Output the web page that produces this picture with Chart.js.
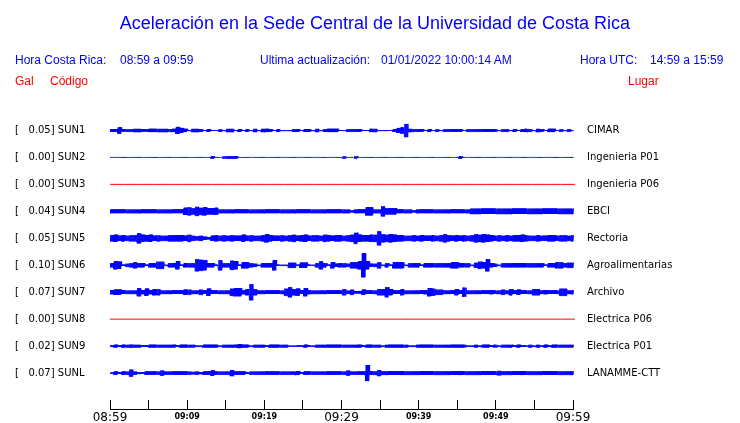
<!DOCTYPE html>
<html>
<head>
<meta charset="utf-8">
<script src="https://cdn.jsdelivr.net/npm/chart.js@4.4.1/dist/chart.umd.min.js"></script>
<style>
  html, body { margin: 0; padding: 0; background: #fff; }
  #wrap { position: relative; width: 740px; height: 423px; overflow: hidden; font-family: "Liberation Sans", Arial, sans-serif; }
  #chart { position: absolute; left: 0; top: 0; }
  #title { position: absolute; left: 0; width: 750px; top: 13px; text-align: center; font-size: 18px; line-height: 20px; color: #0000ff; }
  .txt { position: absolute; white-space: pre; font-size: 12px; line-height: 14px; color: #0000ff; }
  .red { color: #ff0000; }
</style>
</head>
<body>
<div id="wrap">
  <canvas id="chart" width="740" height="423"></canvas>
  <div id="title">Aceleración en la Sede Central de la Universidad de Costa Rica</div>
  <div class="txt" style="left:15px;top:53px">Hora Costa Rica:</div>
  <div class="txt" style="left:120px;top:53px">08:59 a 09:59</div>
  <div class="txt" style="left:260px;top:53px">Ultima actualización:</div>
  <div class="txt" style="left:381px;top:53px">01/01/2022 10:00:14 AM</div>
  <div class="txt" style="left:580px;top:53px">Hora UTC:</div>
  <div class="txt" style="left:650px;top:53px">14:59 a 15:59</div>
  <div class="txt red" style="left:15px;top:74px">Gal</div>
  <div class="txt red" style="left:50px;top:74px">Código</div>
  <div class="txt red" style="left:628px;top:74px">Lugar</div>
</div>
<script>
// stations, top to bottom
const codes = ["SUN1", "SUN2", "SUN3", "SUN4", "SUN5", "SUN6", "SUN7", "SUN8", "SUN9", "SUNL"];
const galMax = ["0.05", "0.00", "0.00", "0.04", "0.05", "0.10", "0.07", "0.00", "0.02", "0.07"];
const places = ["CIMAR", "Ingenieria P01", "Ingenieria P06", "EBCI", "Rectoria", "Agroalimentarias",
  "Archivo", "Electrica P06", "Electrica P01", "LANAMME-CTT"];
const lineColors = ["#0000ff", "#0000ff", "#ff0000", "#0000ff", "#0000ff", "#0000ff", "#0000ff", "#ff0000", "#0000ff", "#0000ff"];

// x axis: minutes after 08:59
const minuteTicks = [0, 5, 10, 15, 20, 25, 30, 35, 40, 45, 50, 55, 60];
const timeLabels = ["08:59", "09:09", "09:19", "09:29", "09:39", "09:49", "09:59"];
const bigLabels = ["08:59", "09:29", "09:59"];

// envelope of each trace, one value per 30 s (counts)
const sun1 = [
  1.2,1.2,3,1,1.2,1.2,1.6,1.6,1.2,1, 1.6,1.6,1.6,1.6,1.6,1.2,1.6,3.5,2.5,1.6,
  0.4,1.6,1.6,1.2,0.4,1.2,0.4,0.4,1.2,0.4, 1.6,1.6,0.4,1.2,0.4,1.2,0.4,1.6,0.4,1.6,
  1.6,1.2,0.4,1.2,0.4,0.4,0.4,1.2,1.2,0.4, 1.2,1.2,0.4,1.6,0.4,1.2,1.6,1.6,1.6,0.4,
  0.4,1.2,1.2,1.2,1.2,0.4,0.4,1.6,1.6,0.4, 0.4,0.4,0.4,1.2,2.5,3,6.5,1.6,1.2,1.2,
  1.2,0.4,1.2,0.4,1.2,0.4,1.2,1.2,1.2,1.2, 1.2,0.4,1.2,1.2,1.2,1.2,1.2,1.2,1.2,1.2,
  0.4,1.2,1.2,0.4,1.2,0.4,1.2,1.6,1.2,0.4, 1.6,1.2,0.4,1.6,1.6,0.4,1.2,0.4,1.2,0.4
];
const sun2 = [
  0,0,0,0,0,0,0,0,0,0, 0,0,0,0,0,0,0,0,0,0,
  0,0,0,0,0,0,1,0,0,1, 1.2,1.2,1.2,0,0,0,0,0,0,0,
  0,0,0,0,0,0,0,0,0,0, 0,0,0,0,0,0,0,0,0,0,
  1,0,0,1,0,0,0,0,0,0, 0,0,0,0,0,0,0,0,0,0,
  0,0,0,0,0,0,0,0,0,0, 1,0,0,0,0,0,0,0,0,0,
  0,0,0,0,0,0,0,0,0,0, 0,0,0,0,0,0,0,0,0,0
];
const sun3 = [0, 0, 0, 0];
const sun4 = [
  1.8,1.8,1.8,1.8,1.8,1.8,1.8,1.8,1.8,1.8, 1.8,1.8,1.8,1.8,1.8,1.8,1.8,1.8,1.8,3.5,
  4,3,4.5,3.5,4,3,3,3.5,1.8,1.8, 1.8,1.8,1.8,1.8,1.8,1.8,1.8,1.8,1.8,1.8,
  1.8,1.8,1.8,1.8,1.8,1.8,1.8,1.8,1.8,1.8, 1.8,1.8,1.8,1.8,1.8,1.8,1.8,1.8,1.8,1.8,
  1.8,1.8,1,1.8,1.8,1.8,4,4,1.8,1.8, 5,3,3,3,1.8,1.8,1.8,1.8,1,1.8,
  1.8,1.8,1.8,1.8,1.8,1.8,1.8,1.8,1.8,1.8, 1.8,1.8,1.8,2.7,2.7,2.7,2.7,2.7,2.7,2.7,
  2.7,2.7,2.7,2.7,2.7,2.7,2.7,2.7,2.7,2.7, 2.7,2.7,2.7,2.7,2.7,2.7,2.7,2.7,2.7,2.7
];
const sun5 = [
  3,3.5,2.5,3,2.5,3,3,5,3.5,3, 3.5,2.5,3,2.5,2.5,3,3,3,3,2.5,
  3.5,2.5,2,2.5,1.5,1,2.5,3,2.5,3, 2.5,3,2.5,2.5,3.5,2.5,3,2.5,2.5,3,
  4,3,2.5,2.5,3,2.5,3,3.5,2.5,3, 3.5,2.5,3,3,2.5,3.5,3,2.5,3,3,
  2.5,3,3.5,5.5,3.5,3,3,3.5,3.5,7, 4,3.5,4,3.5,3,3,2.5,2.5,3,2.5,
  3,2.5,2.5,3,2.5,3,4,3,2.5,3, 2.5,3,2.5,3,4,3.5,4,3.5,3,2.5,
  3,2.5,3,2.5,3,3,3.5,3,2.5,2.5, 3,2.5,2.5,3,3,2.5,3,3,2.5,3
];
const sun6 = [
  2,4,3.5,0.5,1.5,2,3,2,2,0.5, 2,2,3.5,3.5,0.5,2,2,4,0.5,2,
  2,2,6,5.5,5,2,2,0.5,5,2, 2,4.5,4,0.5,3,3,2,1.5,0.5,2,
  2,2,5,0.5,0.5,0.5,2.5,2.5,0.5,2.5, 2.5,0.5,0.5,2,4,2,0.5,3,1.5,2,
  2,1.5,3,3,4,12,4,1.5,1.5,3, 0.5,2,0.5,3,3,3,0.5,2,2,2,
  0.5,2,2,2,2,2,2,2,3,3, 2,2,2,0.5,2.5,3.5,3,6,2,1.5,
  0.5,2,2,2,2,2,2,2,2,2, 2,2,0.5,2,2,3,3,2,2.5,2.5
];
const sun7 = [
  2,2.5,2.5,1.7,1.7,1.7,1.7,4,2,3.5, 2,3,3,1.7,1.7,1.7,1.7,1.7,1.7,2.5,
  2.5,1.7,1.7,2.5,1.7,3.5,1.7,1.7,1.7,1.7, 1.7,3.5,4,4,2,3,8,3,1.7,1.7,
  1.7,1.7,1.7,1.7,1.7,3.5,5,3,3.5,1.7, 4,2,1.7,1.7,1.7,1.7,1.7,1.7,1.7,1.7,
  3,1.5,2.5,1.2,1.2,2.5,1.7,1.7,1.7,3, 3,5,3,1.7,1.7,3,1.7,1.7,1.7,1.7,
  1.7,2,4,3.5,2.5,2.5,1.7,1.7,1.7,3, 1.7,4.5,1.7,1.7,1.7,1.7,1.7,1.7,2,1.7,
  1.7,2.5,1.7,3,1.7,2.5,1.7,1.7,1.7,3, 3,1.7,2,1.7,1.7,1.7,3.5,3.5,1.7,2
];
const sun8 = [0, 0, 0, 0];
const sun9 = [
  0.6,1.3,0.6,1.3,1.3,1.5,1.3,1.3,0.6,0.6, 1.3,1.3,1.3,1.3,1.3,1.3,1.3,0.6,1.3,1.3,
  1.3,1.3,0.6,0.6,1.3,1.3,1.3,1.3,0.6,1.3, 1.3,1.3,1.3,2,1.3,1.3,0.6,1.3,1.3,1.3,
  0.6,1.3,1.3,1.3,1.3,1.3,0.5,0.5,0.5,0.5, 1.3,0.6,0.6,1.3,1.3,1.3,1.3,1.3,1.3,1.3,
  1.3,1.3,1.3,1.3,1.3,0.6,1.3,1.3,1.3,1.3, 0.6,1.3,1.3,1.3,1.3,1.3,1.3,0.6,0.6,1.3,
  1.3,1.3,1.3,1.3,1.3,1.3,1.3,1.3,1.3,1.3, 1.3,1.3,0.6,0.6,1.3,0.6,1.3,1.3,0.6,1.3,
  0.6,1.3,1.3,1.3,0.6,1.3,0.6,0.6,1.3,0.6, 1.3,0.6,1.3,0.6,1.3,1.3,1.3,1.3,1.3,1.3
];
const sunL = [
  0.5,1.5,0.8,1.5,1.5,3.5,1.5,0.8,0.8,1.5, 1.5,1.5,1.5,2.5,1.5,1.5,1.5,1.5,1.5,1.5,
  1.5,1.2,1.5,1,1.5,1.5,2.5,1.5,1.5,1.5, 1.5,3,1.5,1.5,1.5,0.8,1.5,1.5,1.5,1.5,
  1.5,1.5,1.5,1.5,1.5,1.5,1.5,1.5,2,0.8, 1.5,1.5,1.5,1.5,1.5,1.5,1.5,1.5,1.5,1.5,
  1.5,2.5,1.5,1.5,1.5,1.5,8,1.7,1.7,3, 1.7,1.7,1.7,1.7,1.7,2,1.7,1.7,1.7,1.7,
  1.7,1.7,1.7,1.7,1.7,1.7,1.7,1.7,1.7,1.7, 2,1.7,1.7,1.7,1.7,1.7,1.7,1.7,1.7,1.7,
  2.2,1.7,1.7,1.7,1.7,1.7,2,1.7,1.7,1.7, 1.7,1.7,1.7,1.7,1.7,1.7,1.7,1.7,1.7,1.7
];
const traces = [sun1, sun2, sun3, sun4, sun5, sun6, sun7, sun8, sun9, sunL];

const SPAN = 60.25;   // minutes covered by the record
const GAIN = 27;      // counts per trace spacing
const SUB = 8;        // swings drawn per envelope sample

// turn an envelope into a wiggle around the trace's row
const wiggle = (amps, row) => {
  const step = SPAN / amps.length;
  const pts = [];
  amps.forEach((a, i) => {
    for (let j = 0; j < SUB; j += 1) {
      const sign = j % 2 === 0 ? 1 : -1;
      pts.push({ x: i * step + (j * step) / SUB, y: row + (sign * a) / GAIN });
    }
  });
  pts.push({ x: SPAN, y: row });
  return pts;
};

const rowTicks = (scale) => {
  scale.ticks = codes.map((_, i) => ({ value: i }));
};

const labelFont = { family: "DejaVu Sans", size: 10 };

new Chart(document.getElementById("chart"), {
  type: "line",
  data: {
    datasets: codes.map((code, i) => ({
      label: code,
      data: wiggle(traces[i], i),
      borderColor: lineColors[i],
      borderWidth: 1,
      pointRadius: 0,
      tension: 0,
      fill: false,
      clip: false
    }))
  },
  options: {
    responsive: false,
    animation: false,
    events: [],
    layout: { padding: { left: 15, top: 103.5, right: 0, bottom: 0 } },
    plugins: { legend: { display: false }, tooltip: { enabled: false } },
    scales: {
      x: {
        type: "linear",
        position: "bottom",
        weight: 0,
        min: 0,
        max: 60,
        afterBuildTicks: (s) => { s.ticks = minuteTicks.map((v) => ({ value: v })); },
        afterFit: (s) => { s.height = 9; },
        grid: { display: true, drawOnChartArea: false, drawTicks: true, tickLength: 9, color: "#000", lineWidth: 1 },
        border: { display: false },
        ticks: { display: false }
      },
      x2: {
        type: "linear",
        position: "bottom",
        weight: 1,
        min: 0,
        max: 60,
        afterBuildTicks: (s) => { s.ticks = timeLabels.map((_, i) => ({ value: i * 10 })); },
        afterFit: (s) => { s.height = 14; },
        grid: { display: false, drawTicks: false },
        border: { display: true, color: "#000", width: 1 },
        ticks: {
          padding: 2,
          color: "#000",
          autoSkip: false,
          maxRotation: 0,
          callback: (v) => timeLabels[v / 10],
          font: (ctx) => {
            const lbl = ctx.tick ? timeLabels[ctx.tick.value / 10] : "";
            return bigLabels.includes(lbl)
              ? { family: "DejaVu Sans", size: 12, lineHeight: 1.2 }
              : { family: "DejaVu Sans", size: 8, weight: "bold", lineHeight: 1.4 };
          }
        }
      },
      y: {
        type: "linear",
        position: "left",
        reverse: true,
        min: -1,
        max: 10,
        afterBuildTicks: rowTicks,
        afterFit: (s) => { s.width = 95; },
        grid: { display: false, drawTicks: false },
        border: { display: false },
        ticks: {
          crossAlign: "far",
          color: "#000",
          font: labelFont,
          callback: (v) => "[   " + galMax[v] + "] " + codes[v]
        }
      },
      y2: {
        type: "linear",
        position: "right",
        reverse: true,
        min: -1,
        max: 10,
        afterBuildTicks: rowTicks,
        afterFit: (s) => { s.width = 167; },
        grid: { display: false, drawTicks: false },
        border: { display: false },
        ticks: {
          padding: 14,
          color: "#000",
          font: labelFont,
          callback: (v) => places[v]
        }
      }
    }
  }
});
</script>
</body>
</html>
